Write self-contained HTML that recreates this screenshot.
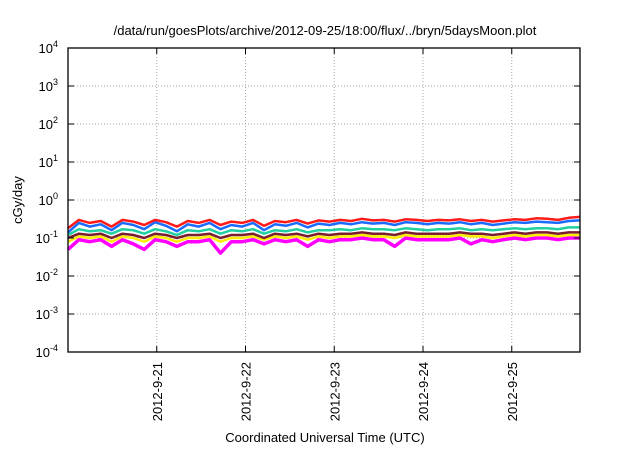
<!DOCTYPE html>
<html><head><meta charset="utf-8"><style>
body{margin:0;background:#fff;font-family:"Liberation Sans",sans-serif}
svg text{font-family:"Liberation Sans",sans-serif;fill:#000}
</style></head><body>
<svg width="640" height="448">
<text x="325" y="35" text-anchor="middle" font-size="13">/data/run/goesPlots/archive/2012-09-25/18:00/flux/../bryn/5daysMoon.plot</text>
<g id="grid"></g><g id="series"></g><g id="axes"></g>
<text x="325" y="442" text-anchor="middle" font-size="13">Coordinated Universal Time (UTC)</text>
<text transform="translate(22,200) rotate(-90)" text-anchor="middle" font-size="13">cGy/day</text>
</svg>
<script>
const xTickLabels=["2012-9-21","2012-9-22","2012-9-23","2012-9-24","2012-9-25"];
const xTickDays=[1,2,3,4,5];
const yTickExps=[-4,-3,-2,-1,0,1,2,3,4];
const seriesColors=["#ff00ff","#ffee00","#7a1f30","#20d0a0","#1a6cff","#ff1a1a"];
const red=[0.18,0.3,0.25,0.28,0.2,0.3,0.27,0.22,0.3,0.26,0.2,0.28,0.25,0.3,0.22,0.27,0.25,0.3,0.21,0.28,0.26,0.3,0.24,0.29,0.27,0.3,0.28,0.32,0.29,0.3,0.27,0.31,0.3,0.28,0.3,0.29,0.31,0.28,0.3,0.27,0.29,0.31,0.3,0.33,0.32,0.3,0.34,0.36];
const blue=[0.14,0.25,0.2,0.23,0.16,0.25,0.22,0.17,0.26,0.21,0.15,0.23,0.2,0.25,0.17,0.22,0.2,0.25,0.16,0.23,0.21,0.25,0.19,0.24,0.22,0.25,0.23,0.26,0.24,0.25,0.22,0.26,0.25,0.23,0.25,0.24,0.26,0.23,0.25,0.22,0.24,0.26,0.25,0.27,0.26,0.25,0.28,0.29];
const teal=[0.12,0.17,0.15,0.16,0.13,0.17,0.16,0.13,0.17,0.15,0.12,0.16,0.15,0.17,0.13,0.16,0.15,0.17,0.13,0.16,0.15,0.17,0.14,0.16,0.16,0.17,0.16,0.18,0.17,0.17,0.16,0.18,0.17,0.16,0.17,0.17,0.18,0.16,0.17,0.16,0.17,0.18,0.17,0.18,0.18,0.17,0.19,0.19];
const purple=[0.1,0.13,0.12,0.13,0.1,0.13,0.12,0.1,0.13,0.12,0.1,0.12,0.12,0.13,0.1,0.12,0.12,0.13,0.1,0.13,0.12,0.13,0.11,0.13,0.12,0.13,0.13,0.14,0.13,0.13,0.12,0.14,0.13,0.13,0.13,0.13,0.14,0.13,0.13,0.12,0.13,0.14,0.13,0.14,0.14,0.13,0.14,0.14];
const yellow=[0.08,0.11,0.1,0.11,0.08,0.11,0.1,0.08,0.11,0.1,0.08,0.1,0.1,0.11,0.08,0.1,0.1,0.11,0.09,0.11,0.1,0.11,0.09,0.11,0.1,0.11,0.11,0.12,0.11,0.11,0.1,0.12,0.11,0.11,0.11,0.11,0.12,0.11,0.11,0.1,0.11,0.12,0.11,0.12,0.12,0.11,0.12,0.12];
const magenta=[0.05,0.09,0.08,0.09,0.06,0.09,0.07,0.05,0.09,0.08,0.06,0.08,0.08,0.09,0.04,0.08,0.08,0.09,0.07,0.09,0.08,0.09,0.06,0.09,0.08,0.09,0.09,0.1,0.09,0.09,0.06,0.1,0.09,0.09,0.09,0.09,0.1,0.07,0.09,0.08,0.09,0.1,0.09,0.1,0.1,0.09,0.1,0.1];
const allSeries=[magenta,yellow,purple,teal,blue,red];
const seriesNames=["series-magenta","series-yellow","series-purple","series-teal","series-blue","series-red"];
const dayStep=0.1227;
const L=68,R=580,T=48,B=352,dayPx=88.75;
const xS=d=>L+d*dayPx;
const yS=v=>B-(Math.log10(v)+4)*38;
const NS="http://www.w3.org/2000/svg";
function mk(t,a,p){const e=document.createElementNS(NS,t);for(const k in a)e.setAttribute(k,a[k]);p.appendChild(e);return e;}
const grid=document.getElementById('grid'),axes=document.getElementById('axes'),sg=document.getElementById('series');
yTickExps.forEach(ex=>{const y=yS(Math.pow(10,ex));
 if(ex>-4&&ex<4){const g=mk('line',{x1:L,x2:R,y1:y,y2:y,stroke:'#aaa','stroke-dasharray':'1,2'},grid);
 
 
 mk('line',{x1:L,x2:L+6,y1:y,y2:y,stroke:'#000'},axes);mk('line',{x1:R,x2:R-6,y1:y,y2:y,stroke:'#000'},axes);}
 const t=mk('text',{x:L-10,y:y+5,'text-anchor':'end','font-size':'13'},axes);
 
 
 t.textContent='10';const s=mk('tspan',{dy:'-6','font-size':'9'},t);s.textContent=String(ex);});
xTickDays.forEach((d,i)=>{const x=xS(d);
 const g=mk('line',{x1:x,x2:x,y1:T,y2:B,stroke:'#aaa','stroke-dasharray':'1,2'},grid);
 
 
 mk('line',{x1:x,x2:x,y1:B,y2:B-6,stroke:'#000'},axes);mk('line',{x1:x,x2:x,y1:T,y2:T+6,stroke:'#000'},axes);
 const t=mk('text',{transform:`translate(${x+5},362) rotate(-90)`,'text-anchor':'end','font-size':'13'},axes);
 
 
 t.textContent=xTickLabels[i];});
const fr=mk('rect',{x:L,y:T,width:R-L,height:B-T,fill:'none',stroke:'#000','stroke-width':1.3},axes);


allSeries.forEach((arr,i)=>{const pts=arr.map((v,j)=>xS(j*dayStep).toFixed(1)+','+yS(v).toFixed(1)).join(' ');
 const p=mk('polyline',{points:pts,fill:'none',stroke:seriesColors[i],'stroke-width':i==0?3.5:2.5,'stroke-linejoin':'round'},sg);
 
 });
</script>
</body></html>
